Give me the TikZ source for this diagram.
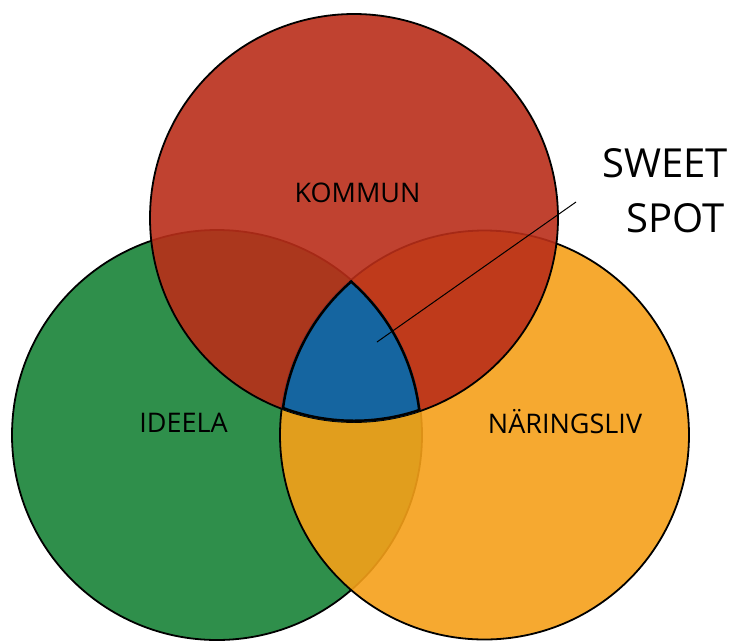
\documentclass[tikz,border=0pt]{standalone}
\usepackage{xcolor}
\usepackage{fontspec}
\setmainfont{Open Sans}
\usepackage{tikz}
\usetikzlibrary{positioning}

\definecolor{kommunred}{RGB}{185,46,25}
\definecolor{ideelagreen}{RGB}{47,143,75}
\definecolor{naringorange}{RGB}{245,160,25}
\definecolor{sweetblue}{RGB}{21,101,160}

\begin{document}
\begin{tikzpicture}[x=1pt,y=-1pt]

        % Define block styles
        \tikzstyle{set} = [circle, draw=black, line width=1.8pt, fill opacity=0.9, inner sep=0pt]
        \tikzstyle{setname} = [text=black, font=\fontsize{27}{32}\selectfont, anchor=base, inner sep=0pt]
        \tikzstyle{callout} = [text=black, font=\fontsize{40}{48}\selectfont, anchor=base east, inner sep=0pt]
        \tikzstyle{rim} = [draw=black, line width=5pt]
        \tikzstyle{pointer} = [black, line width=1pt]

        \useasboundingbox (0,0) rectangle (731,641);

        % Sets
        \node (ideela) [set, fill=ideelagreen, fill opacity=1, minimum size=410pt] at (217,435) {};
        \node (naring) [set, fill=naringorange, minimum size=409pt] at (484.5,435) {};
        \node (kommun) [set, fill=kommunred, minimum size=408pt] at (354,218) {};

        % Sweet spot
        \begin{scope}
          \clip (ideela.center) circle (205pt);
          \clip (naring.center) circle (204.5pt);
          \clip (kommun.center) circle (204pt);
          \fill [sweetblue] (0,0) rectangle (731,641);
          \draw [rim] (ideela.center) circle (205pt);
          \draw [rim] (naring.center) circle (204.5pt);
          \draw [rim] (kommun.center) circle (204pt);
        \end{scope}

        % Labels
        \node (kommunlabel) [setname] at (357.5,202) {KOMMUN};
        \node (ideelalabel) [setname] at (183.5,432) {IDEELA};
        \node (naringlabel) [setname] at (565,433) {NÄRINGSLIV};
        \node (sweet) [callout] at (728,177) {SWEET};
        \node (spot) [callout] at (725,232) {SPOT};

        % Pointer
        \coordinate (spotdot) at (377,342);
        \coordinate (tip) at (576,202);
        \draw [pointer] (spotdot) -- (tip);

\end{tikzpicture}
\end{document}
